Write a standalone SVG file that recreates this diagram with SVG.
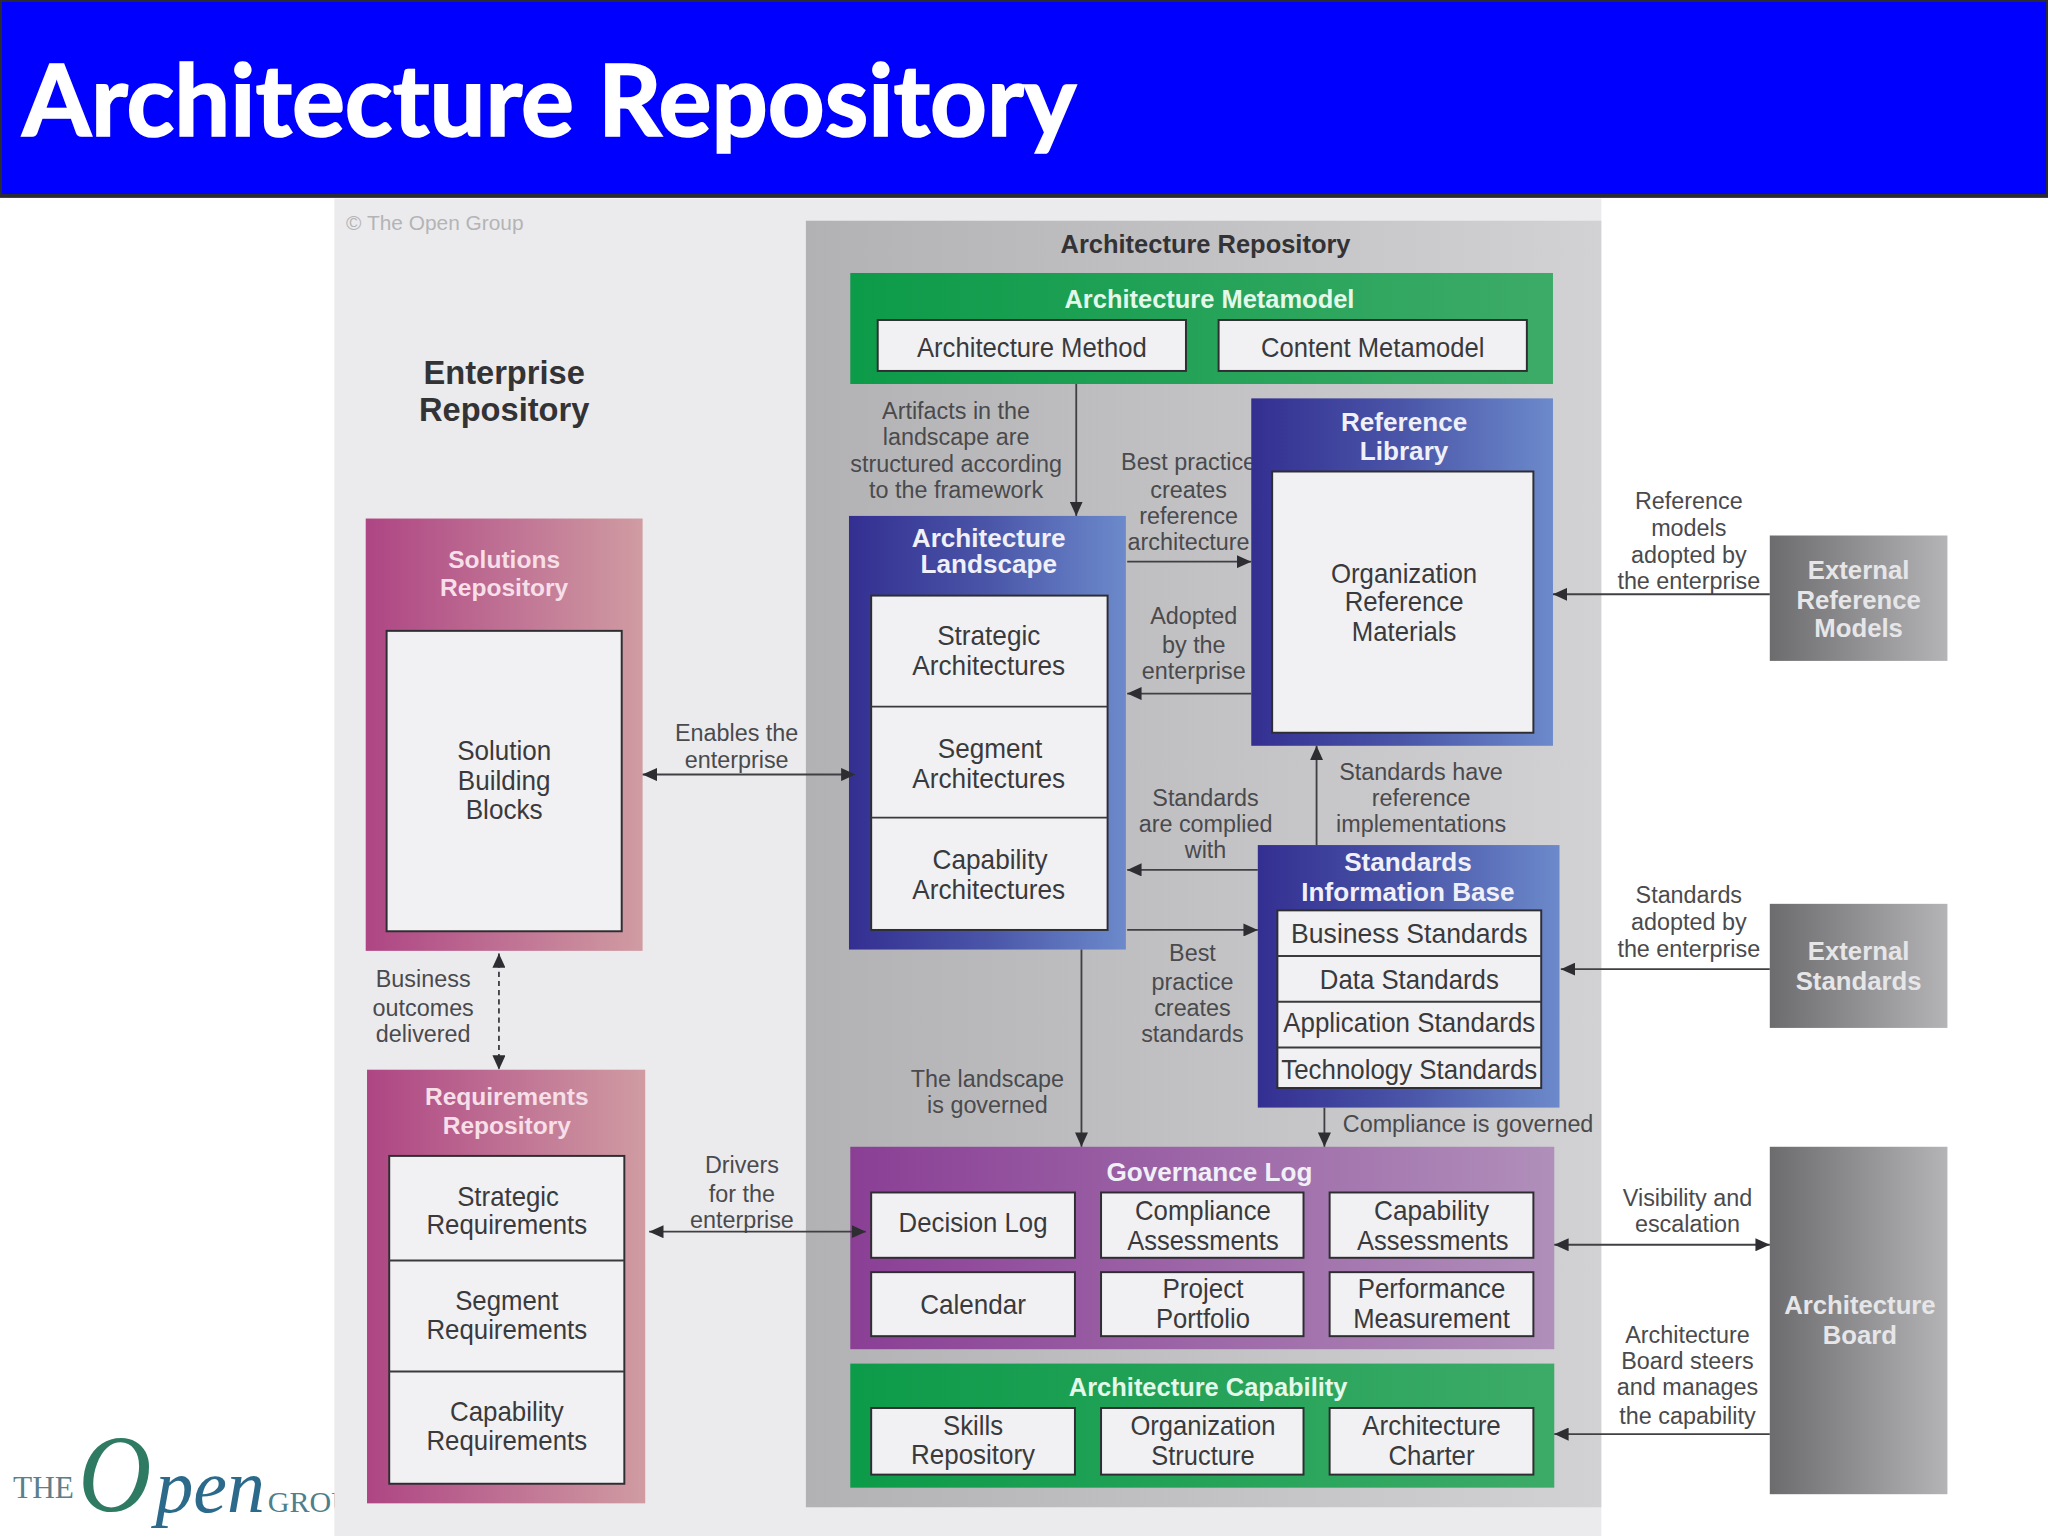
<svg xmlns="http://www.w3.org/2000/svg" width="2048" height="1536" viewBox="0 0 2048 1536">
<style>
text{font-family:"Liberation Sans",Arial,sans-serif;text-anchor:middle}
.b{font-size:21.5px;fill:#3a3a3d}
.l{font-size:17.9px;fill:#4a4a4d}
.t{font-size:20px;font-weight:bold;fill:#f0f0f8}
.p{font-size:18.8px;font-weight:bold;fill:#f6dfe8}
.g{font-size:19.5px;font-weight:bold;fill:#e4f8ea}
.k{font-size:19.7px;font-weight:bold;fill:#e6e6e8}
.s{font-family:"Liberation Serif",serif;text-anchor:start}
.box{fill:#f1f1f3;stroke:#2e2e32;stroke-width:1.5}
.div{stroke:#3a3a3e;stroke-width:1.5;fill:none}
.c{stroke:#404044;stroke-width:1.4;fill:none}
</style>
<defs>
<linearGradient id="gb" x1="0" x2="1" y1="0" y2="0"><stop offset="0" stop-color="#332f91"/><stop offset="0.5" stop-color="#4a55a8"/><stop offset="1" stop-color="#6c8acb"/></linearGradient>
<linearGradient id="gp" x1="0" x2="1" y1="0" y2="0"><stop offset="0" stop-color="#ae4584"/><stop offset="1" stop-color="#d09ca2"/></linearGradient>
<linearGradient id="gv" x1="0" x2="1" y1="0" y2="0"><stop offset="0" stop-color="#8a3f95"/><stop offset="1" stop-color="#b08fba"/></linearGradient>
<linearGradient id="gg" x1="0" x2="1" y1="0" y2="0"><stop offset="0" stop-color="#0c9b49"/><stop offset="1" stop-color="#3dab68"/></linearGradient>
<linearGradient id="gk" x1="0" x2="1" y1="0" y2="0"><stop offset="0" stop-color="#6c6c6e"/><stop offset="1" stop-color="#b4b4b6"/></linearGradient>
<linearGradient id="gr" x1="0" x2="1" y1="0" y2="0"><stop offset="0" stop-color="#b2b2b4"/><stop offset="1" stop-color="#d2d2d4"/></linearGradient>
<marker id="ae" markerUnits="userSpaceOnUse" markerWidth="12" markerHeight="10" refX="11" refY="5" orient="auto"><path d="M0 0L11 5L0 10Z" fill="#2e2e32"/></marker>
<marker id="as" markerUnits="userSpaceOnUse" markerWidth="12" markerHeight="10" refX="0" refY="5" orient="auto"><path d="M11 0L0 5L11 10Z" fill="#2e2e32"/></marker>
</defs>
<g transform="scale(1.30612)">
<g id="header"><rect x="0" y="0" width="1568" height="150" fill="#0000ff" stroke="#2a2a33" stroke-width="3"/>
<text x="17" y="104" textLength="807" lengthAdjust="spacingAndGlyphs" stroke="#fff" stroke-width="1.3" style="font-family:Lato,'Liberation Sans',sans-serif;font-size:76px;font-weight:bold;fill:#fff;text-anchor:start">Architecture Repository</text></g>
<g id="logo">
<text class="s" x="10" y="1147" style="font-size:24px;fill:#5b7f8c">THE</text>
<text class="s" x="60" y="1157" textLength="56" lengthAdjust="spacingAndGlyphs" style="font-size:84px;font-style:italic;fill:#2f7a63">O</text>
<text class="s" x="119" y="1158" style="font-size:58px;font-style:italic;fill:#2b6a8a">pen</text>
<text class="s" x="205" y="1158" style="font-size:23px;fill:#4f7f8c">GROU</text>
</g>
<rect id="enterprise-panel" x="256" y="152" width="970" height="1024" fill="#ebebed"/>
<rect id="repository-panel" x="617" y="169" width="609" height="985" fill="url(#gr)"/>
<text x="265" y="176" style="font-size:16px;fill:#b4b4b6;text-anchor:start">© The Open Group</text>
<text x="923" y="194" style="font-size:19.5px;font-weight:bold;fill:#333336">Architecture Repository</text>
<text x="386" y="294" style="font-size:25px;font-weight:bold;fill:#333336">Enterprise</text>
<text x="386" y="322" style="font-size:25px;font-weight:bold;fill:#333336">Repository</text>

<g id="labels">
<text class="l" x="732" y="321">Artifacts in the</text><text class="l" x="732" y="341">landscape are</text><text class="l" x="732" y="361">structured according</text><text class="l" x="732" y="381">to the framework</text>
<text class="l" x="910" y="360">Best practice</text><text class="l" x="910" y="381">creates</text><text class="l" x="910" y="401">reference</text><text class="l" x="910" y="421">architecture</text>
<text class="l" x="914" y="478">Adopted</text><text class="l" x="914" y="500">by the</text><text class="l" x="914" y="520">enterprise</text>
<text class="l" x="923" y="617">Standards</text><text class="l" x="923" y="637">are complied</text><text class="l" x="923" y="657">with</text>
<text class="l" x="1088" y="597">Standards have</text><text class="l" x="1088" y="617">reference</text><text class="l" x="1088" y="637">implementations</text>
<text class="l" x="913" y="736">Best</text><text class="l" x="913" y="758">practice</text><text class="l" x="913" y="778">creates</text><text class="l" x="913" y="798">standards</text>
<text class="l" x="756" y="832">The landscape</text><text class="l" x="756" y="852">is governed</text>
<text class="l" x="1124" y="867">Compliance is governed</text>
<text class="l" x="564" y="567">Enables the</text><text class="l" x="564" y="588">enterprise</text>
<text class="l" x="324" y="756">Business</text><text class="l" x="324" y="778">outcomes</text><text class="l" x="324" y="798">delivered</text>
<text class="l" x="568" y="898">Drivers</text><text class="l" x="568" y="920">for the</text><text class="l" x="568" y="940">enterprise</text>
<text class="l" x="1293" y="390">Reference</text><text class="l" x="1293" y="410">models</text><text class="l" x="1293" y="431">adopted by</text><text class="l" x="1293" y="451">the enterprise</text>
<text class="l" x="1293" y="691">Standards</text><text class="l" x="1293" y="712">adopted by</text><text class="l" x="1293" y="733">the enterprise</text>
<text class="l" x="1292" y="923">Visibility and</text><text class="l" x="1292" y="943">escalation</text>
<text class="l" x="1292" y="1028">Architecture</text><text class="l" x="1292" y="1048">Board steers</text><text class="l" x="1292" y="1068">and manages</text><text class="l" x="1292" y="1090">the capability</text>
</g>

<g id="architecture-metamodel"><rect x="651" y="209" width="538" height="85" fill="url(#gg)"/>
<text class="g" x="926" y="236">Architecture Metamodel</text>
<rect class="box" x="672" y="245" width="236" height="39"/><text class="b" x="790" y="273" textLength="176" lengthAdjust="spacingAndGlyphs">Architecture Method</text>
<rect class="box" x="933" y="245" width="236" height="39"/><text class="b" x="1051" y="273" textLength="171" lengthAdjust="spacingAndGlyphs">Content Metamodel</text></g>

<g id="reference-library"><rect x="958" y="305" width="231" height="266" fill="url(#gb)"/>
<text class="t" x="1075" y="330">Reference</text><text class="t" x="1075" y="352">Library</text>
<rect class="box" x="974" y="361" width="200" height="200"/>
<text class="b" x="1075" y="446" textLength="112" lengthAdjust="spacingAndGlyphs">Organization</text><text class="b" x="1075" y="468" textLength="91" lengthAdjust="spacingAndGlyphs">Reference</text><text class="b" x="1075" y="491" textLength="80" lengthAdjust="spacingAndGlyphs">Materials</text></g>

<g id="architecture-landscape"><rect x="650" y="395" width="212" height="332" fill="url(#gb)"/>
<text class="t" x="757" y="419">Architecture</text><text class="t" x="757" y="439">Landscape</text>
<rect class="box" x="667" y="456" width="181" height="256"/>
<path class="div" d="M667 541H848M667 626H848"/>
<text class="b" x="757" y="494" textLength="79" lengthAdjust="spacingAndGlyphs">Strategic</text><text class="b" x="757" y="517" textLength="117" lengthAdjust="spacingAndGlyphs">Architectures</text>
<text class="b" x="758" y="580" textLength="80" lengthAdjust="spacingAndGlyphs">Segment</text><text class="b" x="757" y="603" textLength="117" lengthAdjust="spacingAndGlyphs">Architectures</text>
<text class="b" x="758" y="665" textLength="88" lengthAdjust="spacingAndGlyphs">Capability</text><text class="b" x="757" y="688" textLength="117" lengthAdjust="spacingAndGlyphs">Architectures</text></g>

<g id="standards-information-base"><rect x="963" y="647" width="231" height="201" fill="url(#gb)"/>
<text class="t" x="1078" y="667">Standards</text><text class="t" x="1078" y="690">Information Base</text>
<rect class="box" x="978" y="697" width="202" height="136"/>
<path class="div" d="M978 732H1180M978 767H1180M978 802H1180"/>
<text class="b" x="1079" y="722" textLength="181" lengthAdjust="spacingAndGlyphs">Business Standards</text>
<text class="b" x="1079" y="757" textLength="137" lengthAdjust="spacingAndGlyphs">Data Standards</text>
<text class="b" x="1079" y="790" textLength="193" lengthAdjust="spacingAndGlyphs">Application Standards</text>
<text class="b" x="1079" y="826" textLength="196" lengthAdjust="spacingAndGlyphs">Technology Standards</text></g>

<g id="governance-log"><rect x="651" y="878" width="539" height="155" fill="url(#gv)"/>
<text class="t" x="926" y="904">Governance Log</text>
<rect class="box" x="667" y="913" width="156" height="50"/><text class="b" x="745" y="943" textLength="114" lengthAdjust="spacingAndGlyphs">Decision Log</text>
<rect class="box" x="843" y="913" width="155" height="50"/><text class="b" x="921" y="934" textLength="104" lengthAdjust="spacingAndGlyphs">Compliance</text><text class="b" x="921" y="957" textLength="116" lengthAdjust="spacingAndGlyphs">Assessments</text>
<rect class="box" x="1018" y="913" width="156" height="50"/><text class="b" x="1096" y="934" textLength="88" lengthAdjust="spacingAndGlyphs">Capability</text><text class="b" x="1097" y="957" textLength="116" lengthAdjust="spacingAndGlyphs">Assessments</text>
<rect class="box" x="667" y="974" width="156" height="49"/><text class="b" x="745" y="1006" textLength="81" lengthAdjust="spacingAndGlyphs">Calendar</text>
<rect class="box" x="843" y="974" width="155" height="49"/><text class="b" x="921" y="994" textLength="62" lengthAdjust="spacingAndGlyphs">Project</text><text class="b" x="921" y="1017" textLength="72" lengthAdjust="spacingAndGlyphs">Portfolio</text>
<rect class="box" x="1018" y="974" width="156" height="49"/><text class="b" x="1096" y="994" textLength="113" lengthAdjust="spacingAndGlyphs">Performance</text><text class="b" x="1096" y="1017" textLength="120" lengthAdjust="spacingAndGlyphs">Measurement</text></g>

<g id="architecture-capability"><rect x="651" y="1044" width="539" height="95" fill="url(#gg)"/>
<text class="g" x="925" y="1069">Architecture Capability</text>
<rect class="box" x="667" y="1078" width="156" height="51"/><text class="b" x="745" y="1099" textLength="46" lengthAdjust="spacingAndGlyphs">Skills</text><text class="b" x="745" y="1121" textLength="95" lengthAdjust="spacingAndGlyphs">Repository</text>
<rect class="box" x="843" y="1078" width="155" height="51"/><text class="b" x="921" y="1099" textLength="111" lengthAdjust="spacingAndGlyphs">Organization</text><text class="b" x="921" y="1122" textLength="79" lengthAdjust="spacingAndGlyphs">Structure</text>
<rect class="box" x="1018" y="1078" width="156" height="51"/><text class="b" x="1096" y="1099" textLength="106" lengthAdjust="spacingAndGlyphs">Architecture</text><text class="b" x="1096" y="1122" textLength="66" lengthAdjust="spacingAndGlyphs">Charter</text></g>

<g id="solutions-repository"><rect x="280" y="397" width="212" height="331" fill="url(#gp)"/>
<text class="p" x="386" y="435">Solutions</text><text class="p" x="386" y="456">Repository</text>
<rect class="box" x="296" y="483" width="180" height="230"/>
<text class="b" x="386" y="582" textLength="72" lengthAdjust="spacingAndGlyphs">Solution</text><text class="b" x="386" y="605" textLength="71" lengthAdjust="spacingAndGlyphs">Building</text><text class="b" x="386" y="627" textLength="59" lengthAdjust="spacingAndGlyphs">Blocks</text></g>

<g id="requirements-repository"><rect x="281" y="819" width="213" height="332" fill="url(#gp)"/>
<text class="p" x="388" y="846">Requirements</text><text class="p" x="388" y="868">Repository</text>
<rect class="box" x="298" y="885" width="180" height="251"/>
<path class="div" d="M298 965H478M298 1050H478"/>
<text class="b" x="389" y="923" textLength="78" lengthAdjust="spacingAndGlyphs">Strategic</text><text class="b" x="388" y="945" textLength="123" lengthAdjust="spacingAndGlyphs">Requirements</text>
<text class="b" x="388" y="1003" textLength="79" lengthAdjust="spacingAndGlyphs">Segment</text><text class="b" x="388" y="1025" textLength="123" lengthAdjust="spacingAndGlyphs">Requirements</text>
<text class="b" x="388" y="1088" textLength="87" lengthAdjust="spacingAndGlyphs">Capability</text><text class="b" x="388" y="1110" textLength="123" lengthAdjust="spacingAndGlyphs">Requirements</text></g>

<g id="external-reference-models"><rect x="1355" y="410" width="136" height="96" fill="url(#gk)"/>
<text class="k" x="1423" y="443">External</text><text class="k" x="1423" y="466">Reference</text><text class="k" x="1423" y="488">Models</text></g>
<g id="external-standards"><rect x="1355" y="692" width="136" height="95" fill="url(#gk)"/>
<text class="k" x="1423" y="735">External</text><text class="k" x="1423" y="758">Standards</text></g>
<g id="architecture-board"><rect x="1355" y="878" width="136" height="266" fill="url(#gk)"/>
<text class="k" x="1424" y="1006">Architecture</text><text class="k" x="1424" y="1029">Board</text></g>

<g id="connectors">
<path class="c" marker-end="url(#ae)" d="M824 294V395"/>
<path class="c" marker-end="url(#ae)" d="M863 430H958"/>
<path class="c" marker-end="url(#ae)" d="M958 531H863"/>
<path class="c" marker-end="url(#ae)" d="M1008 647V571"/>
<path class="c" marker-end="url(#ae)" d="M963 666H863"/>
<path class="c" marker-end="url(#ae)" d="M863 712H963"/>
<path class="c" marker-end="url(#ae)" d="M1014 848V878"/>
<path class="c" marker-end="url(#ae)" d="M828 727V878"/>
<path class="c" marker-end="url(#ae)" d="M1355 455H1189"/>
<path class="c" marker-end="url(#ae)" d="M1355 742H1195"/>
<path class="c" marker-start="url(#as)" marker-end="url(#ae)" d="M1190 953H1355"/>
<path class="c" marker-end="url(#ae)" d="M1355 1098H1190"/>
<path class="c" marker-start="url(#as)" marker-end="url(#ae)" d="M492 593H655"/>
<path class="c" marker-start="url(#as)" marker-end="url(#ae)" d="M497 943H663"/>
<path class="c" stroke-dasharray="4 3" marker-start="url(#as)" marker-end="url(#ae)" d="M382 730V819"/>
</g>
</g>
</svg>
